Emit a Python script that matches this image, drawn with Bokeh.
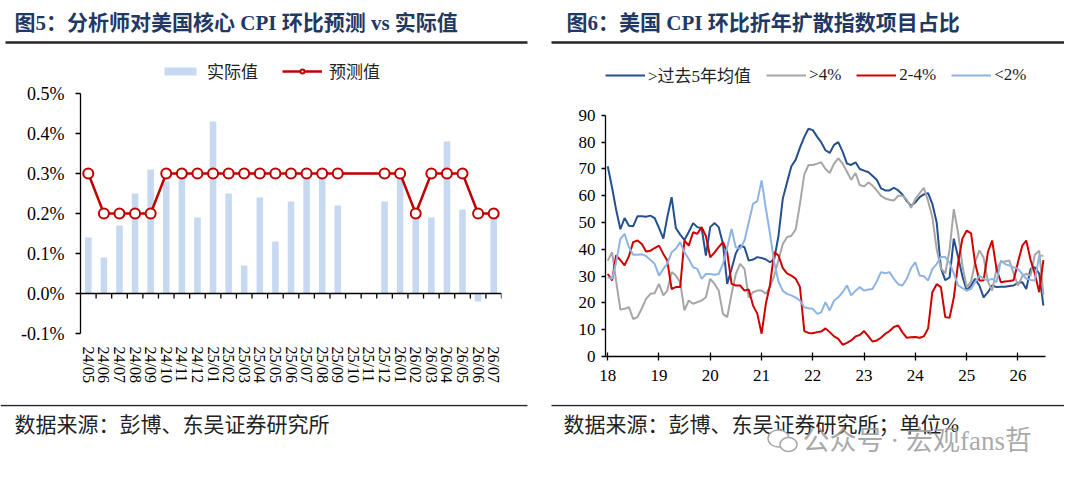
from datetime import datetime

from bokeh.plotting import figure
from bokeh.models import (ColumnDataSource, FactorRange, Range1d, FixedTicker,
                          PrintfTickFormatter, Legend, LegendItem, Span,
                          DatetimeTickFormatter)
from bokeh.transform import dodge
from bokeh.layouts import row, column
from bokeh.embed import file_html
from bokeh.resources import INLINE
from bokeh.core.properties import value

# ------------------------------------------------------------------ data: figure 5
title5 = "图5：分析师对美国核心 CPI 环比预测 vs 实际值"
source5 = "数据来源：彭博、东吴证券研究所"
months5 = ["24/05", "24/06", "24/07", "24/08", "24/09", "24/10", "24/11", "24/12",
           "25/01", "25/02", "25/03", "25/04", "25/05", "25/06", "25/07", "25/08",
           "25/09", "25/10", "25/11", "25/12", "26/01", "26/02", "26/03", "26/04",
           "26/05", "26/06", "26/07"]
actual5 = [0.14, 0.09, 0.17, 0.25, 0.31, 0.28, 0.29, 0.19, 0.43, 0.25, 0.07, 0.24,
           0.13, 0.23, 0.29, 0.29, 0.22, None, None, 0.23, 0.29, 0.20, 0.19, 0.38,
           0.21, -0.02, 0.21]
forecast5 = [0.3, 0.2, 0.2, 0.2, 0.2, 0.3, 0.3, 0.3, 0.3, 0.3, 0.3, 0.3, 0.3, 0.3,
             0.3, 0.3, 0.3, None, None, 0.3, 0.3, 0.2, 0.3, 0.3, 0.3, 0.2, 0.2]
y5_ticks = [-0.1, 0.0, 0.1, 0.2, 0.3, 0.4, 0.5]
legend5 = ["实际值", "预测值"]

# ------------------------------------------------------------------ data: figure 6
title6 = "图6：美国 CPI 环比折年扩散指数项目占比"
source6 = "数据来源：彭博、东吴证券研究所；单位%"
watermark = "公众号 · 宏观fans哲"
start6 = (2018, 1)
year_labels6 = ["18", "19", "20", "21", "22", "23", "24", "25", "26"]
y6_ticks = [0, 10, 20, 30, 40, 50, 60, 70, 80, 90]
names6 = [">过去5年均值", ">4%", "2-4%", "<2%"]
above_avg6 = [71, 63, 55, 47.5, 51.7, 48.8, 48.6, 52.4, 52.4, 52.2,
              52.6, 51.7, 48, 44, 52, 59.5, 48, 45.5, 43.5, 46.5,
              49.8, 48.3, 47.9, 37.7, 48.3, 49.8, 48.3, 42, 27.1, 32.7,
              38.5, 41.5, 40.8, 35.8, 36.2, 37.1, 36.8, 36.2, 35.2, 36.4,
              45, 59, 65, 71, 73.5, 78, 82, 85, 84.5, 82,
              80, 77, 76, 79, 80, 76.5, 72, 71.5, 72.5, 70,
              69.4, 68.8, 67.5, 66, 62.8, 62, 62, 63, 62, 60.5,
              58, 56.3, 57.5, 59.5, 60.5, 61, 57, 50, 33, 28.5,
              29.5, 44, 37, 30, 24.6, 26.5, 29, 26.5, 22.1, 24,
              26.5, 25.9, 26, 26, 26.3, 26.5, 27.5, 27.7, 25.2, 32.7,
              33.3, 31, 19]
over4_6 = [35.8, 38.9, 28.4, 17.5, 17.8, 18.4, 14, 14.7, 18, 21.5,
           23.4, 23.6, 27.1, 22.8, 24.6, 31.5, 30.2, 27.7, 17.2, 20.9,
           19.7, 20.3, 20.9, 22.1, 29, 27.1, 24.6, 15.9, 14.7, 23.4,
           30.8, 34.6, 32.7, 22, 24, 24.6, 24.6, 23.4, 25.9, 30.2,
           36, 42, 44.5, 45.1, 47.5, 57, 68, 71.5, 71.5, 72,
           72.5, 70, 68.5, 72, 74, 72, 69, 66, 68.5, 64,
           63.5, 65, 63.8, 62, 60, 59, 58.5, 58.2, 60, 60,
           58.5, 55.5, 58.8, 61, 63, 58, 52, 40, 33, 31,
           40, 55, 46, 34, 25.9, 28, 35, 39.6, 37, 28,
           24.6, 32.7, 35.2, 35.5, 35.8, 31, 26.5, 30, 30.8, 30.2,
           38, 39.5, 23]
mid2to4_6 = [30.8, 28.4, 37.7, 36, 34, 37.5, 42.7, 43.3, 42, 39.2,
             39.5, 40.5, 41.4, 38.3, 35.8, 25.2, 25.9, 25.9, 43.3, 41.4,
             46.4, 45.8, 48.3, 45, 37, 38.9, 40.8, 42.7, 38.9, 27.1,
             26.5, 26.5, 24.6, 25, 19, 16, 8.5, 20, 26.5, 39,
             37.7, 33, 31, 30.2, 29, 26, 9.5, 8.8, 8.7, 9.1,
             9.3, 10.5, 9.1, 7.5, 6.6, 4.4, 5.1, 6, 7.5, 8,
             9.5, 7.5, 5.6, 6, 7, 8.5, 9.5, 11, 11.6, 9,
             7, 7.2, 7.3, 7, 7.5, 10.5, 24, 27, 25.9, 14.7,
             14.5, 22, 35, 44, 47, 46, 35, 28.4, 28.4, 39,
             43.3, 32.7, 27.7, 28, 28.2, 28.5, 35.2, 41.4, 43.3, 36,
             31, 24, 36]
under2_6 = [29.6, 29, 35, 43.9, 45.8, 40.8, 38, 38, 38.2, 37.5,
            36, 34.6, 30.2, 32.7, 34.6, 38.9, 40.2, 42.7, 38.9, 36.4,
            33.3, 32.7, 29, 30.8, 30.8, 30.5, 30.8, 34.6, 40.8, 47.6,
            40.8, 40.2, 43.3, 50, 57, 58, 65.7, 55, 46, 35,
            28, 24.5, 23.4, 22.8, 22, 20.9, 18.4, 18, 17.8, 15.9,
            16.5, 20.3, 17.2, 20.9, 22.1, 24, 26.5, 22.8, 24.5, 25.9,
            24.6, 25, 25.2, 28, 31.5, 31.1, 31.5, 29, 27, 26.5,
            29, 33, 35.2, 30.2, 30, 28.4, 32.7, 34.5, 37.1, 37.1,
            35, 31, 26.5, 25.5, 24.6, 25.2, 27.7, 30.2, 29, 28.4,
            29, 27.7, 35.8, 34.5, 34, 33.3, 32.7, 30.8, 29, 28.6,
            28.4, 37.5, 37.7]

# ------------------------------------------------------------------ styles
FONT = "Liberation Serif, Noto Sans CJK SC"
TITLE_COLOR = "#1F3864"
BAR_COLOR = "#C6D9F1"
RED = "#C00000"
colors6 = ["#24508E", "#A6A6A6", "#D00000", "#8EB4E3"]
PANEL_W = 532


def banner(height, txt, tx, ty, line_x0, line_x1, line_y, lw, size, bold, color):
    f = figure(width=PANEL_W, height=height, x_range=Range1d(0, PANEL_W),
               y_range=Range1d(0, height), x_axis_type=None, y_axis_type=None,
               min_border=0, outline_line_color=None, toolbar_location=None,
               output_backend="svg")
    f.xgrid.visible = False
    f.ygrid.visible = False
    f.segment(x0=[line_x0], y0=[line_y], x1=[line_x1], y1=[line_y],
              line_width=lw, line_color="#262626")
    f.text(x=[tx], y=[ty], text=[txt], text_font=value(FONT),
           text_font_size=value(size), text_font_style="bold" if bold else "normal",
           text_color=color, text_baseline="middle", text_align="left")
    return f


def ms(d):
    return (d - datetime(1970, 1, 1)).total_seconds() * 1000.0


# ------------------------------------------------------------------ figure 5
p5 = figure(x_range=FactorRange(factors=months5, range_padding=0),
            y_range=Range1d(-0.1, 0.5825),
            frame_width=421, frame_height=273,
            min_border_left=80, min_border_right=31, min_border_top=12, min_border_bottom=71,
            output_backend="svg", toolbar_location=None)
p5.outline_line_color = None
p5.xgrid.visible = False
p5.ygrid.visible = False

src5 = ColumnDataSource(dict(cat=months5,
                             actual=[float("nan") if v is None else v for v in actual5]))
bars = p5.vbar(x="cat", top="actual", width=0.42, source=src5,
               fill_color=BAR_COLOR, line_color=None)

p5.add_layout(Span(location=0, dimension="width", line_color="black", line_width=1.3))
p5.segment(x0=dodge("cat", 0.5, range=p5.x_range), y0=0,
           x1=dodge("cat", 0.5, range=p5.x_range), y1=-0.0125,
           source=src5, line_color="black", line_width=1.3)

fc_src = ColumnDataSource(dict(
    cat=[c for c, v in zip(months5, forecast5) if v is not None],
    fc=[v for v in forecast5 if v is not None]))
fline = p5.line(x="cat", y="fc", source=fc_src, line_color=RED, line_width=2.5)
fmark = p5.scatter(x="cat", y="fc", source=fc_src, marker="circle", size=10,
                   fill_color="white", line_color=RED, line_width=2)

ya = p5.yaxis[0]
ya.bounds = (-0.1, 0.5)
ya.ticker = FixedTicker(ticks=y5_ticks)
ya.formatter = PrintfTickFormatter(format="%.1f%%")
ya.minor_tick_line_color = None
ya.major_tick_out = 5
ya.major_tick_in = 0
ya.axis_line_width = 1.3
ya.major_tick_line_width = 1.3
ya.major_label_standoff = 11
ya.major_label_text_font = "Liberation Serif"
ya.major_label_text_font_size = "18px"
ya.major_label_text_color = "black"

xa = p5.xaxis[0]
xa.axis_line_color = None
xa.major_tick_line_color = None
xa.minor_tick_line_color = None
xa.major_label_orientation = "vertical"
xa.major_label_standoff = 7
xa.major_label_text_font = "Liberation Serif"
xa.major_label_text_font_size = "16px"
xa.major_label_text_color = "black"

leg5 = Legend(items=[LegendItem(label=legend5[0], renderers=[bars]),
                     LegendItem(label=legend5[1], renderers=[fline, fmark])],
              orientation="horizontal", location=(80, 250),
              glyph_width=40, glyph_height=10, label_standoff=7, spacing=24,
              padding=0, margin=0, background_fill_alpha=0, border_line_color=None,
              label_text_font=FONT, label_text_font_size="17px", label_text_color="#222")
p5.add_layout(leg5)

# ------------------------------------------------------------------ figure 6
dates6 = [datetime(start6[0] + (start6[1] - 1 + i) // 12, (start6[1] - 1 + i) % 12 + 1, 1)
          for i in range(len(above_avg6))]
p6 = figure(x_axis_type="datetime",
            x_range=Range1d(datetime(2017, 12, 16), datetime(2026, 7, 16)),
            y_range=Range1d(0, 110.5),
            frame_width=440, frame_height=296,
            min_border_left=73, min_border_right=19, min_border_top=12, min_border_bottom=48,
            output_backend="svg", toolbar_location=None)
p6.outline_line_color = None
p6.xgrid.visible = False
p6.ygrid.visible = False

src6 = ColumnDataSource(dict(d=dates6, a=above_avg6, b=over4_6, c=mid2to4_6, e=under2_6))
items6 = []
for col, name, colr in zip(["a", "b", "c", "e"], names6, colors6):
    r = p6.line(x="d", y=col, source=src6, line_color=colr, line_width=2)
    items6.append(LegendItem(label=name, renderers=[r]))

ya6 = p6.yaxis[0]
ya6.bounds = (0, 90)
ya6.ticker = FixedTicker(ticks=y6_ticks)
ya6.minor_tick_line_color = None
ya6.major_tick_out = 4
ya6.major_tick_in = 0
ya6.axis_line_width = 1.3
ya6.major_tick_line_width = 1.3
ya6.major_label_standoff = 6
ya6.major_label_text_font = "Liberation Serif"
ya6.major_label_text_font_size = "17px"
ya6.major_label_text_color = "black"

xa6 = p6.xaxis[0]
xa6.ticker = FixedTicker(ticks=[ms(datetime(2000 + int(y), 1, 1)) for y in year_labels6])
xa6.formatter = DatetimeTickFormatter(years="%y", months="%y", days="%y", hours="%y")
xa6.minor_tick_line_color = None
xa6.major_tick_out = 4
xa6.major_tick_in = 4
xa6.axis_line_width = 1.3
xa6.major_tick_line_width = 1.3
xa6.major_label_standoff = 9
xa6.major_label_text_font = "Liberation Serif"
xa6.major_label_text_font_size = "17px"
xa6.major_label_text_color = "black"

leg6 = Legend(items=items6, orientation="horizontal", location=(0, 269),
              glyph_width=40, glyph_height=12, label_standoff=3, spacing=15,
              padding=0, margin=0, background_fill_alpha=0, border_line_color=None,
              label_text_font=FONT, label_text_font_size="17px", label_text_color="#222")
p6.add_layout(leg6)

# ------------------------------------------------------------------ headers / footers
h5 = banner(48, title5, 14, 26, 5, 527, 6, 2.5, "21px", True, TITLE_COLOR)
h6 = banner(48, title6, 34, 26, 19, 532, 6, 2.5, "21px", True, TITLE_COLOR)
f5 = banner(64, source5, 14, 44, 0, 527, 63, 1.5, "21px", False, "#222")
f6 = banner(64, source6, 31, 44, 19, 532, 63, 1.5, "21px", False, "#222")
# watermark (icon + text)
f6.ellipse(x=[246], y=[30], width=[21], height=[17], fill_color="white",
           line_color="#A8A8A8", line_width=1.5)
f6.ellipse(x=[256], y=[24], width=[17], height=[14], fill_color="white",
           line_color="#A8A8A8", line_width=1.5)
f6.text(x=[270], y=[28], text=[watermark], text_font=value(FONT),
        text_font_size=value("27px"), text_color="#9A9A9A", text_alpha=0.85,
        text_baseline="middle", text_align="left")

layout = column(row(h5, h6, spacing=0), row(p5, p6, spacing=0), row(f5, f6, spacing=0),
                spacing=0)

open("out.html", "w").write(file_html(layout, INLINE))
